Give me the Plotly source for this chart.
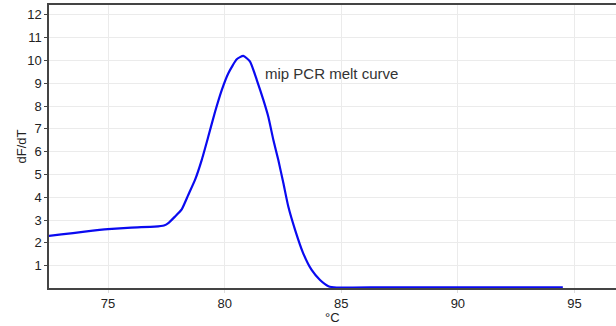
import plotly.graph_objects as go

temps = [72.0, 73.0, 74.0, 75.0, 76.0, 77.0, 77.4, 77.6, 77.87, 78.16, 78.44, 78.73,
         79.02, 79.30, 79.59, 79.88, 80.16, 80.52, 80.80, 81.09, 81.38, 81.66, 81.87,
         82.09, 82.30, 82.52, 82.73, 83.02, 83.37, 83.73, 84.09, 84.45, 84.8, 85.5,
         87.0, 89.0, 91.0, 93.0, 94.5]
dfdt = [2.25, 2.37, 2.49, 2.60, 2.67, 2.71, 2.76, 2.88, 3.15, 3.47, 4.10, 4.76,
        5.64, 6.66, 7.75, 8.71, 9.44, 10.05, 10.20, 9.95, 9.14, 8.27, 7.54,
        6.51, 5.64, 4.61, 3.59, 2.57, 1.54, 0.81, 0.37, 0.10, 0.04, 0.04,
        0.05, 0.05, 0.05, 0.05, 0.05]

x_ticks = [75, 80, 85, 90, 95]
y_ticks = [1, 2, 3, 4, 5, 6, 7, 8, 9, 10, 11, 12]
label_text = "mip PCR melt curve"
label_pos = (81.63, 9.44)
x_title = "°C"
y_title = "dF/dT"

FONT = "Liberation Sans, Arial, sans-serif"

fig = go.Figure()
fig.add_trace(go.Scatter(x=temps, y=dfdt, mode="lines",
                         line=dict(color="#0a0af0", width=2.2, shape="spline", smoothing=0.5),
                         hoverinfo="skip", showlegend=False))

fig.add_annotation(x=label_pos[0], y=label_pos[1], text=label_text,
                   xanchor="left", yanchor="middle", showarrow=False,
                   font=dict(family=FONT, size=15, color="#333333"))

fig.add_annotation(x=0.488, y=-0.105, xref="paper", yref="paper", text=x_title,
                   xanchor="center", yanchor="middle", showarrow=False,
                   font=dict(family=FONT, size=13, color="#222222"))
fig.add_annotation(x=-0.0465, y=0.5, xref="paper", yref="paper", text=y_title,
                   xanchor="center", yanchor="middle", showarrow=False, textangle=-90,
                   font=dict(family=FONT, size=13, color="#222222"))

fig.update_layout(
    width=630, height=326,
    margin=dict(l=49, r=0, t=5, b=38, autoexpand=False),
    paper_bgcolor="white", plot_bgcolor="white",
    font=dict(family=FONT, size=13, color="#222222"),
    xaxis=dict(range=[72.47, 97.38], tickvals=x_ticks, ticktext=[str(v) for v in x_ticks],
               showgrid=True, gridcolor="#ebebeb", gridwidth=1,
               showline=True, linecolor="#444444", linewidth=1.5, mirror=True,
               ticks="outside", ticklen=3, tickcolor="#dddddd",
               zeroline=False, automargin=False),
    yaxis=dict(range=[0.02, 12.43], tickvals=y_ticks, ticktext=[str(v) for v in y_ticks],
               showgrid=True, gridcolor="#ebebeb", gridwidth=1,
               showline=True, linecolor="#444444", linewidth=1.5, mirror=False,
               ticks="outside", ticklen=3, tickcolor="#444444",
               zeroline=False, automargin=False),
)

fig.write_html("out.html", config={"displayModeBar": False},
               post_script="document.body.style.margin='0';document.body.style.overflow='hidden';")
